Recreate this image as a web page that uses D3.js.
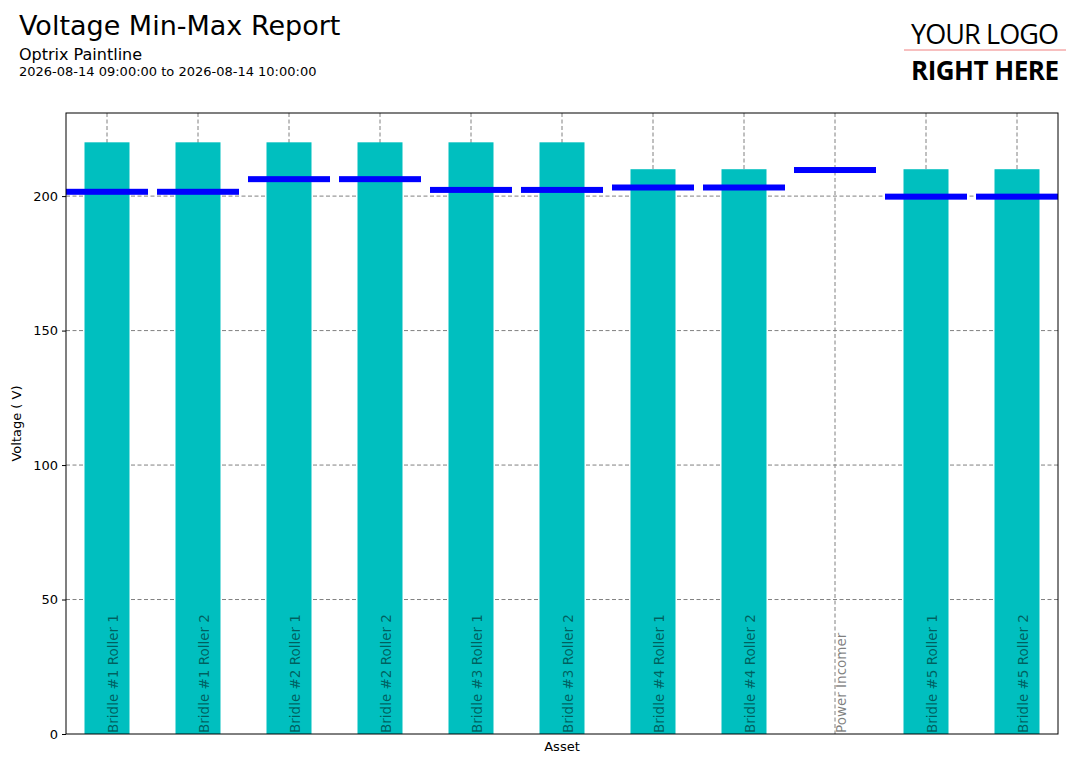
<!DOCTYPE html>
<html><head><meta charset="utf-8">
<script src="https://cdn.jsdelivr.net/npm/d3@7"></script>
<style>body{margin:0;background:#fff;font-family:"DejaVu Sans",sans-serif}</style>
</head><body><svg id="c" width="1081" height="764"></svg>
<script>
const categories = ["Bridle #1 Roller 1","Bridle #1 Roller 2","Bridle #2 Roller 1","Bridle #2 Roller 2","Bridle #3 Roller 1","Bridle #3 Roller 2","Bridle #4 Roller 1","Bridle #4 Roller 2","Power Incomer","Bridle #5 Roller 1","Bridle #5 Roller 2"];
const maxValues = [220,220,220,220,220,220,210,210,0,210,210];
const minValues = [201.6,201.6,206.3,206.3,202.3,202.3,203.2,203.2,209.7,199.8,199.8];
const yTicks = [0,50,100,150,200];

const svg = d3.select("#c");
const L=66,R=1058,T=113,B=734;
const x = d3.scalePoint().domain(categories).range([107,1017]);
const y = d3.scaleLinear().domain([0,230.9]).range([B,T]);

svg.append("text").attr("x",19).attr("y",35).attr("font-size",27).text("Voltage Min-Max Report");
svg.append("text").attr("x",19).attr("y",60).attr("font-size",16).text("Optrix Paintline");
svg.append("text").attr("x",19).attr("y",76).attr("font-size",13).text("2026-08-14 09:00:00 to 2026-08-14 10:00:00");
svg.append("text").attr("x",985).attr("y",44).attr("font-size",27).attr("text-anchor","middle").attr("font-family","Open Sans, sans-serif").attr("textLength",148).text("YOUR LOGO");
svg.append("line").attr("x1",904).attr("x2",1066).attr("y1",50).attr("y2",50).attr("stroke","#f08080");
svg.append("text").attr("x",985).attr("y",80).attr("font-size",26).attr("font-weight","bold").attr("text-anchor","middle").attr("font-family","Open Sans, sans-serif").attr("textLength",148).text("RIGHT HERE");

const g = svg.append("g");
yTicks.forEach(t=>{ if(t>0) g.append("line").attr("x1",L).attr("x2",R).attr("y1",y(t)).attr("y2",y(t)).attr("stroke","#808080").attr("stroke-dasharray","4,2.5");});
categories.forEach(c=>{ g.append("line").attr("x1",x(c)).attr("x2",x(c)).attr("y1",T).attr("y2",B).attr("stroke","#808080").attr("stroke-dasharray","4,2.5");});

g.selectAll("rect.bar").data(categories).enter().append("rect")
 .attr("x",c=>x(c)-22.5).attr("width",45)
 .attr("y",(c,i)=>y(maxValues[i])).attr("height",(c,i)=>B-y(maxValues[i])).attr("fill","#00bfbf");
g.selectAll("rect.min").data(categories).enter().append("rect")
 .attr("x",c=>x(c)-41).attr("width",82)
 .attr("y",(c,i)=>y(minValues[i])-3).attr("height",6).attr("fill","#0000ff");
g.selectAll("text.lbl").data(categories).enter().append("text")
 .attr("transform",c=>`translate(${x(c)+11},${B-1}) rotate(-90)`)
 .attr("font-size",13.5).attr("fill","#000").attr("fill-opacity",0.5).text(c=>c);

svg.append("rect").attr("x",L).attr("y",T).attr("width",R-L).attr("height",B-T).attr("fill","none").attr("stroke","#000");
const ya = svg.append("g").attr("transform",`translate(${L},0)`).call(d3.axisLeft(y).tickValues(yTicks).tickSize(4).tickPadding(4));
ya.select(".domain").remove();
ya.selectAll("text").attr("font-size",13).attr("font-family","DejaVu Sans");
svg.append("text").attr("transform",`translate(21,${(T+B)/2}) rotate(-90)`).attr("text-anchor","middle").attr("font-size",13).text("Voltage ( V)");
svg.append("text").attr("x",(L+R)/2).attr("y",751).attr("text-anchor","middle").attr("font-size",13).text("Asset");
</script></body></html>
